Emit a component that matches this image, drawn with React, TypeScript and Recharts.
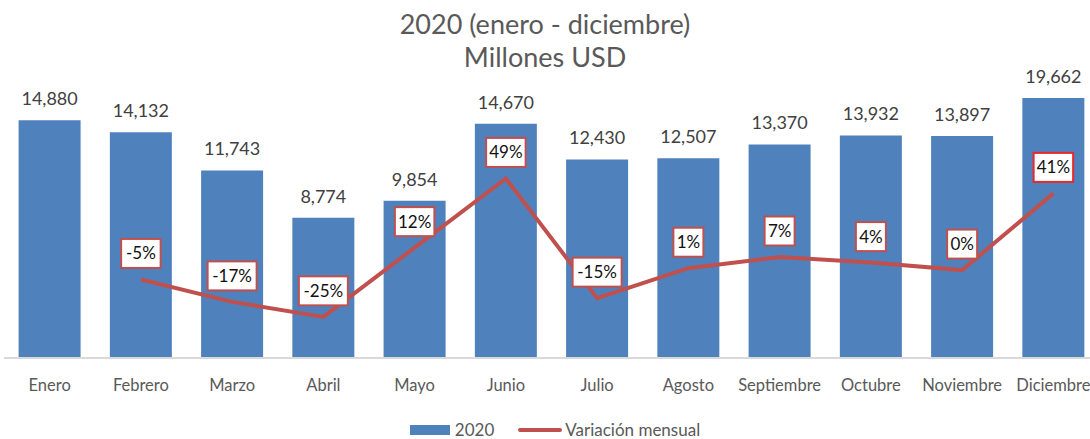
import { ComposedChart, Bar, Line, XAxis, YAxis, LabelList, Legend } from "recharts";

const months = [
  "Enero", "Febrero", "Marzo", "Abril", "Mayo", "Junio",
  "Julio", "Agosto", "Septiembre", "Octubre", "Noviembre", "Diciembre",
];
// millones USD
const values2020 = [14880, 14132, 11743, 8774, 9854, 14670, 12430, 12507, 13370, 13932, 13897, 19662];
// variación mensual, % (enero no tiene)
const variation = [null, -5, -17, -25, 12, 49, -15, 1, 7, 4, 0, 41];

const data = months.map((m, i) => ({ month: m, total: values2020[i], variacion: variation[i] }));

const FONT = "Lato, 'Open Sans', sans-serif";
const TOP = 98;
const BAR = "#4f81bd";
const RED = "#c0504d";

const BarLabel = (props: any) => {
  const { x, y, width, value } = props;
  const top = Math.max(Number(y), TOP);
  return (
    <text x={Number(x) + Number(width) / 2} y={top - 15} textAnchor="middle" fill="#404040" fontSize={18} fontFamily={FONT}>
      {value.toLocaleString("en-US")}
    </text>
  );
};

const PctLabel = (props: any) => {
  const { x, y, value, index } = props;
  if (value === null || value === undefined) return null;
  const txt = `${value}%`;
  const w = txt.length * 9.5 + 11;
  const h = 29;
  const cy = Number(y) - 26;
  return (
    <g>
      <rect x={Number(x) - w / 2} y={cy - h / 2} width={w} height={h} fill="#fff" stroke={index === 11 ? "#e8282b" : RED} strokeWidth={2} />
      <text x={Number(x)} y={cy + 6} textAnchor="middle" fill="#111" fontSize={17} fontFamily={FONT}>
        {txt}
      </text>
    </g>
  );
};

const renderLegend = () => (
  <div style={{ display: "flex", justifyContent: "center", alignItems: "center", paddingTop: 31, fontFamily: FONT, fontSize: 17, color: "#595959", gap: 24, marginLeft: 20 }}>
    <div style={{ display: "flex", alignItems: "center", gap: 5 }}>
      <div style={{ width: 40, height: 10, background: BAR }} />
      <span>2020</span>
    </div>
    <div style={{ display: "flex", alignItems: "center", gap: 3 }}>
      <div style={{ width: 44, height: 4, borderRadius: 2, background: RED }} />
      <span>Variación mensual</span>
    </div>
  </div>
);

export default function App() {
  return (
    <div style={{ position: "absolute", left: 0, top: 0, width: 1090, height: 439, background: "#fff", overflow: "hidden" }}>
      <div style={{ position: "absolute", top: 7, left: 0, width: 1090, textAlign: "center", fontFamily: FONT, fontSize: 27, lineHeight: "33px", color: "#595959", zIndex: 1 }}>
        2020 (enero - diciembre)
        <br />
        Millones USD
      </div>
      <ComposedChart width={1100} height={439} data={data} margin={{ top: TOP, right: 1, bottom: 1, left: 4 }} barCategoryGap="16%">
        <XAxis dataKey="month" axisLine={{ stroke: "#d9d9d9", strokeWidth: 2 }} tickLine={false} tickMargin={15} height={30} tick={{ fill: "#595959", fontSize: 16.5, fontFamily: FONT }} interval={0} />
        <YAxis yAxisId="left" hide domain={[0, 16280]} allowDataOverflow />
        <YAxis yAxisId="right" orientation="right" hide domain={[-47, 92]} />
        <Legend verticalAlign="bottom" height={50} content={renderLegend} wrapperStyle={{ width: 1090, left: 0 }} />
        <Bar yAxisId="left" dataKey="total" name="2020" fill={BAR} isAnimationActive={false}>
          <LabelList dataKey="total" content={BarLabel} />
        </Bar>
        <Line yAxisId="right" dataKey="variacion" name="Variación mensual" stroke={RED} strokeWidth={4} dot={false} connectNulls isAnimationActive={false}>
          <LabelList dataKey="variacion" content={PctLabel} />
        </Line>
      </ComposedChart>
    </div>
  );
}
